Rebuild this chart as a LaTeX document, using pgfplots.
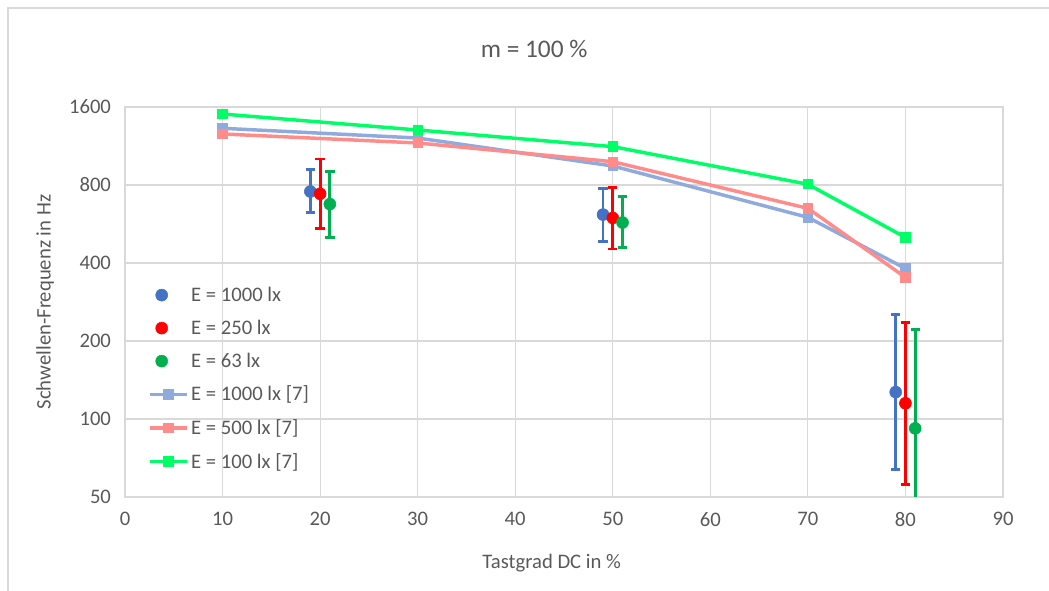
\documentclass[border=0pt]{standalone}
\usepackage{pgfplots}
\pgfplotsset{compat=1.18}
\usepackage{fontspec}
\setmainfont{Carlito}
\definecolor{txt}{HTML}{595959}
\definecolor{gridc}{HTML}{D9D9D9}
\definecolor{mblue}{HTML}{4472C4}
\definecolor{mred}{HTML}{FF0000}
\definecolor{mgreen}{HTML}{00B050}
\definecolor{lblue}{HTML}{8FAADC}
\definecolor{lred}{HTML}{FF8B8B}
\definecolor{lgreen}{HTML}{00FF66}

% x  y  plus  minus
\pgfplotstableread{
x y ep em
19 755 160 130
49 615 160 130
79 127 127 63
}\meanA
\pgfplotstableread{
x y ep em
20 740 268 195
50 597 183 144
80 115 120 59
}\meanB
\pgfplotstableread{
x y ep em
21 675 227 174
51 573 148 113
81 92 129 52
}\meanC

\begin{document}
\begin{tikzpicture}
\useasboundingbox (0,0) rectangle (786.75pt,443.25pt);
\draw[gridc, line width=0.8pt] (6pt,-10pt) rectangle (800pt,437.25pt);
\begin{axis}[
    at={(93.75pt,70.5pt)}, anchor=south west,
    scale only axis, width=658.5pt, height=292.5pt,
    xmin=0, xmax=90, xtick={0,10,...,90},
    ymode=log, log basis y=2, ymin=50, ymax=1600,
    ytick={50,100,200,400,800,1600},
    yticklabels={50,100,200,400,800,1600},
    grid=major, major grid style={gridc, line width=0.9pt},
    axis line style={gridc, line width=0.9pt},
    major tick length=0pt,
    font=\fontsize{15.5}{18}\selectfont, text=txt,
    /pgf/number format/assume math mode=true,
    xticklabel style={yshift=-8pt},
    yticklabel style={xshift=-7pt},
    title={m = 100 \%},
    title style={at={(0.466,1)}, anchor=center, yshift=37.5pt, font=\fontsize{19}{22}\selectfont},
    xlabel={Tastgrad DC in \%},
    xlabel style={at={(0.486,0)}, anchor=center, yshift=-49.5pt},
    ylabel={Schwellen-Frequenz in Hz},
    ylabel style={at={(0,0.5)}, anchor=center, yshift=60pt},
    legend cell align=left,
    legend style={at={(0.022,0.553)}, anchor=north west, draw=none, fill=none,
        font=\fontsize{15.5}{18}\selectfont, row sep=8.5pt, text=txt},
    error bars/error bar style={line width=2.2pt},
    error bars/error mark options={rotate=90, mark size=3.5pt, line width=2.2pt},
]
\addplot+[only marks, mark=*, mark size=4.5pt, color=mblue, mark options={fill=mblue, draw=mblue},
    error bars/.cd, y dir=both, y explicit]
    table[x=x, y=y, y error plus=ep, y error minus=em] {\meanA};
\addlegendentry{E = 1000 lx}
\addplot+[only marks, mark=*, mark size=4.5pt, color=mred, mark options={fill=mred, draw=mred},
    error bars/.cd, y dir=both, y explicit]
    table[x=x, y=y, y error plus=ep, y error minus=em] {\meanB};
\addlegendentry{E = 250 lx}
\addplot+[only marks, mark=*, mark size=4.5pt, color=mgreen, mark options={fill=mgreen, draw=mgreen},
    error bars/.cd, y dir=both, y explicit]
    table[x=x, y=y, y error plus=ep, y error minus=em] {\meanC};
\addlegendentry{E = 63 lx}
\addplot[color=lblue, line width=2.6pt, mark=square*, mark size=3.5pt, mark options={fill=lblue, line width=0pt},
    legend image code/.code={\draw[mark repeat=2, mark phase=2] plot coordinates {(0cm,0cm) (0.48cm,0cm) (0.96cm,0cm)};}]
    coordinates {(10,1324) (30,1214) (50,947) (70,600) (80,381)};
\addlegendentry{E = 1000 lx [7]}
\addplot[color=lred, line width=2.6pt, mark=square*, mark size=3.5pt, mark options={fill=lred, line width=0pt},
    legend image code/.code={\draw[mark repeat=2, mark phase=2] plot coordinates {(0cm,0cm) (0.48cm,0cm) (0.96cm,0cm)};}]
    coordinates {(10,1259) (30,1162) (50,984) (70,650) (80,352)};
\addlegendentry{E = 500 lx [7]}
\addplot[color=lgreen, line width=2.6pt, mark=square*, mark size=3.5pt, mark options={fill=lgreen, line width=0pt},
    legend image code/.code={\draw[mark repeat=2, mark phase=2] plot coordinates {(0cm,0cm) (0.48cm,0cm) (0.96cm,0cm)};}]
    coordinates {(10,1503) (30,1304) (50,1125) (70,805) (80,502)};
\addlegendentry{E = 100 lx [7]}
\end{axis}
\end{tikzpicture}
\end{document}
